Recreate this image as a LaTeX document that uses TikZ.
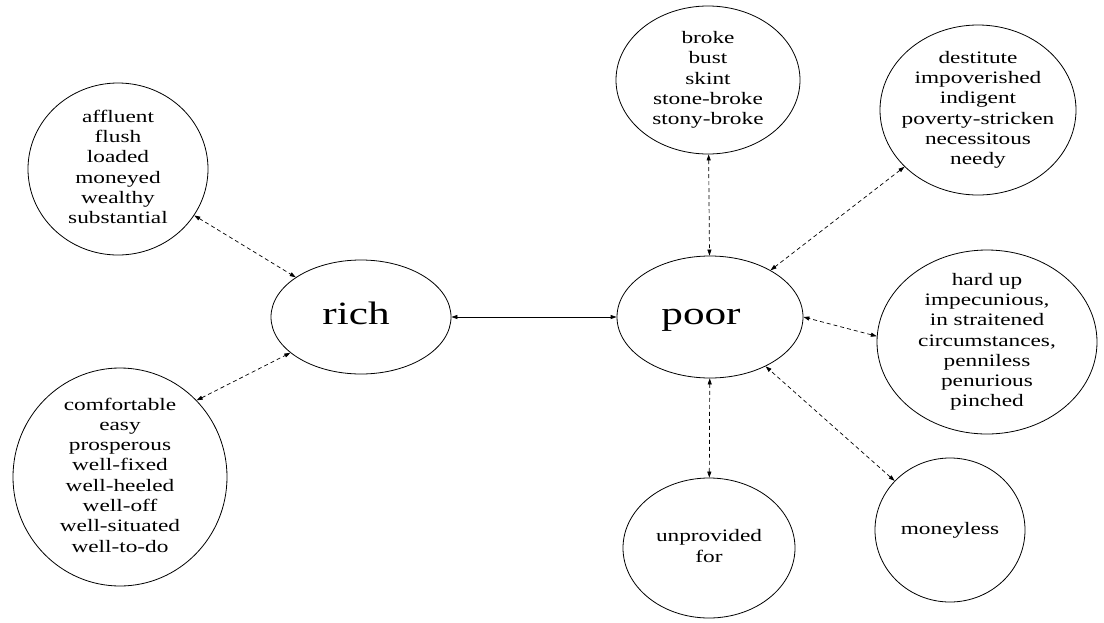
\documentclass[tikz,border=0pt]{standalone}
\usepackage{fontspec}
\setmainfont{Liberation Serif}[FakeStretch=1.33]
\usetikzlibrary{shapes.geometric,arrows.meta}
\newcommand\lbl[1]{\vbox to 0pt{\vss\hbox to 0pt{\hss\begin{tabular}{@{}c@{}}#1\end{tabular}\hss}\vss}}
\tikzset{
  word/.style={draw, line width=0.8pt, ellipse, inner sep=0pt,
    font=\fontsize{17.5}{20.3}\selectfont},
  head/.style={draw, line width=0.8pt, ellipse, inner sep=0pt,
    font=\fontsize{32.5}{36}\selectfont},
  syn/.style={line width=0.7pt, dash pattern=on 4pt off 3pt,
    {Triangle[length=6pt,width=4pt]}-{Triangle[length=6pt,width=4pt]}},
  ant/.style={line width=0.8pt,
    {Triangle[length=6pt,width=4pt]}-{Triangle[length=6pt,width=4pt]}}
}
\begin{document}
\begin{tikzpicture}[x=1pt,y=-1pt]
\useasboundingbox[fill=white] (0,0) rectangle (1104,622);
\node[head, minimum width=180pt, minimum height=114pt] (rich) at (361,317) {\lbl{\kern-10pt rich}};
\node[head, minimum width=186pt, minimum height=122pt] (poor) at (710,317) {\lbl{\kern-18pt poor}};
\node[word, minimum width=180pt, minimum height=172pt] (aff) at (118,169)
  {\lbl{affluent\\flush\\loaded\\moneyed\\wealthy\\substantial}};
\node[word, minimum width=214pt, minimum height=218pt] (comf) at (120,477)
  {\lbl{comfortable\\easy\\prosperous\\well-fixed\\well-heeled\\well-off\\well-situated\\well-to-do}};
\node[word, minimum width=184pt, minimum height=148pt] (broke) at (708,80)
  {\lbl{broke\\bust\\skint\\stone-broke\\stony-broke}};
\node[word, minimum width=196pt, minimum height=170pt] (dest) at (978,110)
  {\lbl{destitute\\impoverished\\indigent\\poverty-stricken\\necessitous\\needy}};
\node[word, minimum width=220pt, minimum height=184pt] (hard) at (987,342)
  {\lbl{hard up\\impecunious,\\in straitened\\circumstances,\\penniless\\penurious\\pinched}};
\node[word, minimum width=172pt, minimum height=140pt] (unprov) at (709,548)
  {\lbl{unprovided\\for}};
\node[word, minimum width=150pt, minimum height=144pt] (money) at (950,530)
  {\lbl{moneyless}};
\draw[ant] (rich) -- (poor);
\draw[syn] (aff) -- (rich);
\draw[syn] (comf.45) -- (rich);
\draw[syn] (broke) -- (poor);
\draw[syn] (dest) -- (poor);
\draw[syn] (hard.177) -- (poor.east);
\draw[syn] (money) -- (poor);
\draw[syn] (unprov) -- (poor);
\end{tikzpicture}
\end{document}
